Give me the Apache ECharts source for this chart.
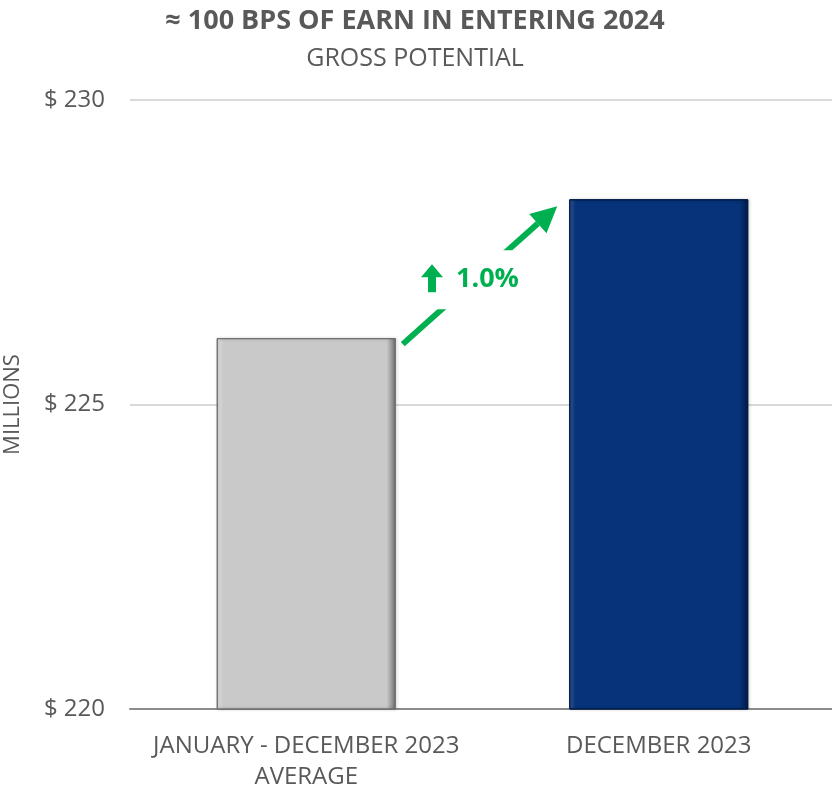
<!DOCTYPE html>
<html>
<head>
<meta charset="utf-8">
<script src="https://cdn.jsdelivr.net/npm/echarts@6.0.0/dist/echarts.min.js"></script>
<style>
  html, body { margin: 0; padding: 0; background: #ffffff; }
  #chart { width: 832px; height: 788px; }
</style>
</head>
<body>
<div id="chart"></div>
<script>
// 柱状对比：全年平均 vs 12 月，中间画一条涨幅箭头
const 类别 = ['JANUARY - DECEMBER 2023\nAVERAGE', 'DECEMBER 2023']
const 数值 = [226.09, 228.37]
const 柱颜色 = ['#c8c9c8', '#06337a']
const 柱边缘浅色 = ['#ececec', '#3a5d9a']
const 柱边缘深色 = ['#6e6f6e', '#011a45']
const 纵轴刻度 = [220, 225, 230]

const 标题 = '≈ 100 BPS OF EARN IN ENTERING 2024'
const 副标题 = 'GROSS POTENTIAL'
const 纵轴名 = 'MILLIONS'
const 绿色 = '#00b050'
const 文字灰 = '#595959'
const 字体 = '"Open Sans", Arial, sans-serif'

const 涨幅文本 = ((数值[1] / 数值[0] - 1) * 100).toFixed(1) + '%'

function 柱渐变(索引) {
  return new echarts.graphic.LinearGradient(0, 0, 1, 0, [
    { offset: 0, color: 柱边缘浅色[索引] },
    { offset: 0.035, color: 柱颜色[索引] },
    { offset: 0.95, color: 柱颜色[索引] },
    { offset: 1, color: 柱边缘深色[索引] },
  ])
}

const 图表 = echarts.init(document.getElementById('chart'))

图表.setOption({
  animation: false,
  textStyle: { fontFamily: 字体 },
  title: [
    {
      text: 标题,
      left: 410,
      top: 3,
      textAlign: 'center',
      textStyle: { color: 文字灰, fontSize: 27, fontWeight: 'bold', fontFamily: 字体 },
    },
    {
      text: 副标题,
      left: 410,
      top: 41,
      textAlign: 'center',
      textStyle: { color: 文字灰, fontSize: 25, fontWeight: 'normal', fontFamily: 字体 },
    },
  ],
  grid: { left: 130, right: -3, top: 100, bottom: 79, outerBoundsMode: 'none', containLabel: false },
  xAxis: {
    type: 'category',
    data: 类别,
    axisLine: { lineStyle: { color: '#8c8c8c', width: 2 } },
    axisTick: { show: false },
    axisLabel: {
      interval: 0,
      color: 文字灰,
      fontSize: 24,
      margin: 22,
      lineHeight: 31,
      fontFamily: 字体,
    },
  },
  yAxis: {
    type: 'value',
    min: 纵轴刻度[0],
    max: 纵轴刻度[纵轴刻度.length - 1],
    interval: 纵轴刻度[1] - 纵轴刻度[0],
    name: 纵轴名,
    nameLocation: 'middle',
    nameGap: 106,
    nameRotate: 90,
    nameTextStyle: { color: 文字灰, fontSize: 22, fontFamily: 字体 },
    axisLine: { show: false },
    axisTick: { show: false },
    axisLabel: {
      color: 文字灰,
      fontSize: 24,
      margin: 25,
      fontFamily: 字体,
      formatter: (值) => '$ ' + 值,
    },
    splitLine: { lineStyle: { color: '#d9d9d9', width: 2 } },
  },
  series: [
    {
      type: 'bar',
      barWidth: 179,
      data: 数值.map((值, 索引) => ({
        value: 值,
        itemStyle: {
          color: 柱渐变(索引),
          borderColor: 柱边缘深色[索引],
          borderWidth: 1,
          shadowColor: 'rgba(0,0,0,0.25)',
          shadowBlur: 3,
          shadowOffsetX: 1,
        },
      })),
    },
  ],
})

// 涨幅箭头：从左柱右上角指向右柱左上角
function 画箭头() {
  const 半宽 = 179 / 2
  const 左柱 = 图表.convertToPixel({ seriesIndex: 0 }, [0, 数值[0]])
  const 右柱 = 图表.convertToPixel({ seriesIndex: 0 }, [1, 数值[1]])
  const 起点 = [左柱[0] + 半宽 + 7, 左柱[1] + 6]
  const 终点 = [右柱[0] - 半宽 - 12, 右柱[1] + 7]

  const dx = 终点[0] - 起点[0]
  const dy = 终点[1] - 起点[1]
  const 长度 = Math.hypot(dx, dy)
  const ux = dx / 长度
  const uy = dy / 长度
  const 头长 = 26
  const 头宽 = 13
  const 头底 = [终点[0] - ux * 头长, 终点[1] - uy * 头长]
  const 头点 = [
    终点,
    [头底[0] - uy * 头宽, 头底[1] + ux * 头宽],
    [头底[0] + uy * 头宽, 头底[1] - ux * 头宽],
  ]

  const 中心 = [(起点[0] + 终点[0]) / 2, (起点[1] + 终点[1]) / 2]
  const 标签中心 = [中心[0] - 11, 中心[1] + 4]

  图表.setOption({
    graphic: [
      {
        type: 'line',
        shape: { x1: 起点[0], y1: 起点[1], x2: 头底[0], y2: 头底[1] },
        style: { stroke: 绿色, lineWidth: 6 },
        z: 10,
      },
      {
        type: 'polygon',
        shape: { points: 头点 },
        style: { fill: 绿色 },
        z: 10,
      },
      {
        type: 'rect',
        shape: { x: 标签中心[0] - 57, y: 标签中心[1] - 29, width: 108, height: 59 },
        style: { fill: '#ffffff' },
        z: 11,
      },
      {
        type: 'polygon',
        shape: {
          points: [
            [标签中心[0] - 37, 标签中心[1] - 15],
            [标签中心[0] - 26, 标签中心[1] - 2],
            [标签中心[0] - 33, 标签中心[1] - 2],
            [标签中心[0] - 33, 标签中心[1] + 13],
            [标签中心[0] - 41, 标签中心[1] + 13],
            [标签中心[0] - 41, 标签中心[1] - 2],
            [标签中心[0] - 48, 标签中心[1] - 2],
          ],
        },
        style: { fill: 绿色 },
        z: 12,
      },
      {
        type: 'text',
        x: 标签中心[0] - 13,
        y: 标签中心[1],
        style: {
          text: 涨幅文本,
          fill: 绿色,
          font: 'bold 27px ' + 字体,
          textVerticalAlign: 'middle',
          textAlign: 'left',
        },
        z: 12,
      },
    ],
  })
}

画箭头()
</script>
</body>
</html>
